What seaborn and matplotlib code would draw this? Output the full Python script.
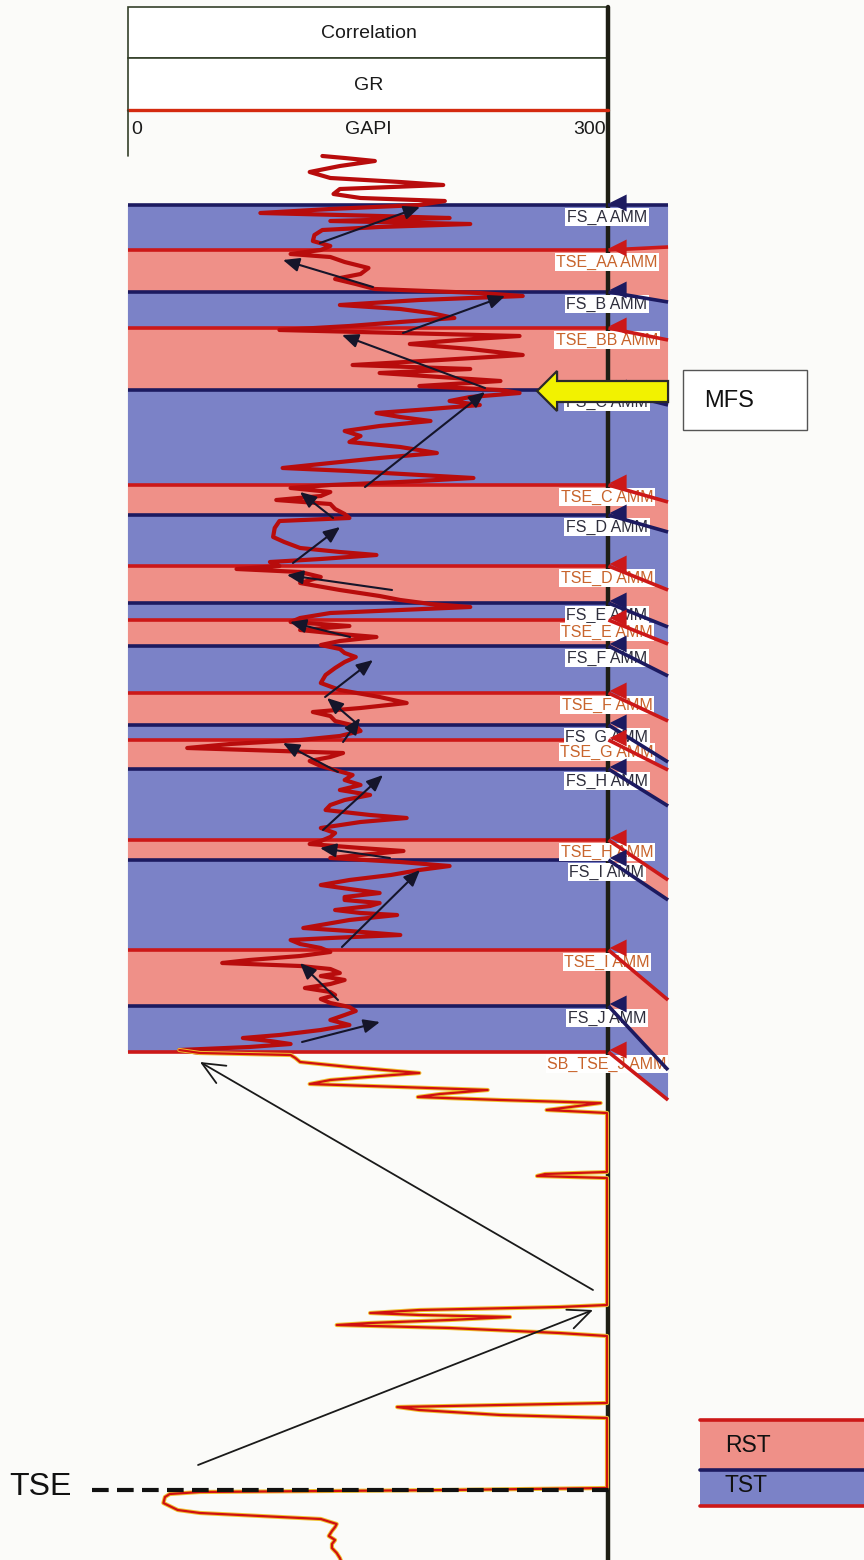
import numpy as np
import pandas as pd
import matplotlib
matplotlib.use("Agg")
import matplotlib.pyplot as plt
import matplotlib.patheffects as pe
from matplotlib.patches import Polygon, Rectangle
import seaborn as sns

sns.set_style("white")
plt.rcParams['font.family'] = ['Liberation Sans', 'DejaVu Sans']

# ---------------- data ----------------
surface_names = ["FS_A AMM", "TSE_AA AMM", "FS_B AMM", "TSE_BB AMM", "FS_C AMM",
                 "TSE_C AMM", "FS_D AMM", "TSE_D AMM", "FS_E AMM", "TSE_E AMM",
                 "FS_F AMM", "TSE_F AMM", "FS_G AMM", "TSE_G AMM", "FS_H AMM",
                 "TSE_H AMM", "FS_I AMM", "TSE_I AMM", "FS_J AMM", "SB_TSE_J AMM"]
surface_kind = ["FS", "TSE", "FS", "TSE", "FS", "TSE", "FS", "TSE", "FS", "TSE",
                "FS", "TSE", "FS", "TSE", "FS", "TSE", "FS", "TSE", "FS", "TSE"]
surface_depth = [205, 250, 292, 328, 390, 485, 515, 566, 603, 620,
                 646, 693, 725, 740, 769, 840, 860, 950, 1006, 1052]
# depth of the same surface at the right edge of the correlation panel
surface_depth_right = [205, 247, 302, 340, 405, 502, 532, 590, 627, 644,
                       676, 721, 762, 770, 806, 880, 900, 1000, 1070, 1100]

gr_depth = [156, 158, 161, 166, 172, 178, 182, 185, 189, 194, 198, 201, 205, 209, 213, 216,
            218, 221, 224, 227, 230, 235, 241, 246, 250, 254, 257, 262, 268, 274, 279, 284,
            289, 293, 296, 300, 305, 309, 313, 318, 322, 326, 330, 333, 336, 340, 344, 349,
            355, 360, 365, 369, 373, 377, 381, 386, 390, 393, 397, 401, 405, 409, 413, 417,
            421, 426, 431, 436, 442, 447, 453, 458, 463, 468, 471, 475, 478, 482, 485, 488,
            492, 496, 500, 504, 509, 514, 518, 521, 528, 537, 542, 548, 552, 555, 559, 562,
            566, 569, 572, 577, 583, 590, 596, 600, 604, 607, 610, 613, 618, 622, 626, 630,
            634, 637, 641, 645, 649, 653, 657, 662, 668, 675, 683, 690, 697, 703, 708, 712,
            716, 721, 726, 731, 736, 740, 744, 748, 751, 753, 757, 761, 766, 770, 775, 780,
            785, 790, 795, 800, 805, 810, 815, 818, 822, 828, 833, 837, 841, 844, 848, 851,
            855, 858, 862, 866, 870, 875, 880, 885, 889, 893, 897, 900, 903, 906, 910, 913,
            915, 920, 925, 928, 931, 935, 938, 940, 944, 948, 952, 956, 960, 963, 966, 969,
            973, 976, 980, 984, 988, 992, 995, 999, 1003, 1007, 1011, 1015, 1020, 1025, 1030, 1035,
            1038, 1041, 1044, 1047, 1050, 1053, 1055, 1058, 1062, 1067, 1073, 1076, 1080, 1084, 1087, 1090,
            1094, 1097, 1100, 1103, 1107, 1110, 1113, 1172, 1174, 1176, 1178, 1305, 1307, 1310, 1313, 1315,
            1317, 1320, 1323, 1325, 1328, 1333, 1336, 1403, 1405, 1407, 1410, 1415, 1418, 1488, 1490, 1492,
            1494, 1497, 1503, 1510, 1513, 1516, 1519, 1522, 1524, 1527, 1531, 1536, 1540, 1544, 1548, 1553,
            1558, 1562]
gr_api = [121, 135, 154, 132, 113, 126, 170, 197, 132, 128, 145, 198, 182, 126, 82, 157,
          201, 126, 214, 157, 121, 116, 115, 126, 120, 101, 126, 135, 150, 145, 129, 142,
          154, 220, 247, 182, 132, 170, 189, 204, 170, 138, 94, 170, 245, 207, 176, 214,
          247, 195, 140, 214, 157, 195, 233, 182, 233, 245, 214, 201, 220, 189, 155, 170,
          189, 157, 135, 145, 138, 170, 193, 157, 126, 96, 138, 182, 216, 170, 126, 101,
          126, 120, 92, 126, 129, 135, 138, 94, 91, 90, 97, 107, 132, 155, 120, 88,
          94, 67, 107, 120, 107, 132, 157, 170, 189, 214, 170, 126, 107, 101, 138, 107,
          132, 155, 132, 120, 132, 135, 142, 135, 129, 123, 120, 132, 157, 174, 145, 115,
          126, 129, 142, 145, 132, 107, 63, 36, 94, 134, 126, 113, 120, 129, 140, 135,
          145, 132, 151, 135, 126, 123, 151, 174, 145, 120, 129, 126, 120, 113, 145, 172,
          145, 126, 170, 201, 182, 164, 138, 120, 138, 157, 135, 135, 157, 151, 129, 145,
          168, 138, 120, 109, 138, 170, 126, 101, 107, 120, 126, 107, 75, 58, 107, 126,
          132, 120, 135, 126, 110, 126, 129, 120, 126, 138, 142, 135, 126, 138, 120, 94,
          71, 88, 101, 75, 31, 44, 101, 104, 107, 138, 182, 157, 126, 113, 170, 225,
          195, 181, 233, 296, 277, 262, 300, 300, 261, 256, 300, 300, 270, 182, 151, 182,
          239, 201, 151, 130, 201, 270, 300, 300, 233, 168, 182, 233, 300, 300, 201, 44,
          25, 22, 21, 30, 44, 82, 120, 126, 130, 129, 127, 125, 129, 127, 127, 130,
          132, 133]

# trend arrows inside the sequence (GR start, depth start, GR end, depth end)
trend_arrows = [(119.5, 243, 182.4, 207), (152.8, 287, 96.2, 260), (171.7, 333, 235.9, 296),
                (223.3, 388, 133.3, 335), (147.8, 487, 223.3, 392), (127.7, 518, 106.9, 492),
                (102.5, 563, 132.1, 527), (164.8, 590, 98.7, 575), (138.4, 637, 100.6, 622),
                (122.7, 697, 152.8, 660), (141.5, 722, 123.9, 698), (134.0, 742, 144.7, 718),
                (130.8, 772, 96.2, 743), (121.4, 830, 159.1, 775), (163.5, 858, 119.5, 848),
                (133.3, 947, 182.4, 870), (130.8, 1000, 106.9, 963), (108.2, 1042, 157.2, 1022)]
big_arrows = [(291.2, 1290, 44.0, 1062), (42.8, 1465, 291.2, 1310)]

tse_depth = 1490
legend_labels = ["RST", "TST"]

# ---------------- styling ----------------
BLUE = "#7b82c7"
PINK = "#ef9088"
NAVY = "#1c1a60"
RED = "#cc1818"
FS_TXT = "#2e2e3c"
TSE_TXT = "#c8642c"
X_LEFT, X_TRACK, X_RIGHT = -1.3, 300.9, 338.4

fig = plt.figure(figsize=(8.64, 15.6), dpi=100)
fig.patch.set_facecolor("#fbfbf9")
ax = fig.add_axes([0, 0, 1, 1])
ax.set_facecolor("#fbfbf9")

# zones
for i in range(len(surface_depth) - 1):
    top, bot = surface_depth[i], surface_depth[i + 1]
    topr, botr = surface_depth_right[i], surface_depth_right[i + 1]
    col = BLUE if surface_kind[i] == "FS" else PINK
    poly = Polygon([(X_LEFT, top), (X_TRACK, top), (X_RIGHT, topr), (X_RIGHT, botr),
                    (X_TRACK, bot), (X_LEFT, bot)], closed=True, facecolor=col,
                   edgecolor="none", zorder=1)
    ax.add_patch(poly)

# surface lines (left part)
for d, k in zip(surface_depth, surface_kind):
    ax.plot([X_LEFT, X_TRACK], [d, d], color=NAVY if k == "FS" else RED, lw=2.6, zorder=2,
            solid_capstyle="butt")

# track line
ax.plot([X_TRACK, X_TRACK], [7, 1560], color="#1e1e14", lw=3.2, zorder=2.5)

# GR curve
df = pd.DataFrame({"depth": gr_depth, "GR": gr_api})
up = df[df.depth <= 1053]
lo = df[df.depth >= 1050]
sns.lineplot(data=up, x="GR", y="depth", sort=False, estimator=None, orient="y", ax=ax,
             color="#b80c0c", lw=3.0, zorder=3)
sns.lineplot(data=lo, x="GR", y="depth", sort=False, estimator=None, orient="y", ax=ax,
             color="#d01010", lw=1.6, zorder=3,
             path_effects=[pe.Stroke(linewidth=3.0, foreground="#f0c030"), pe.Normal()])

# trend arrows
for x0, y0, x1, y1 in trend_arrows:
    ax.annotate("", xy=(x1, y1), xytext=(x0, y0),
                arrowprops=dict(arrowstyle="-|>,head_length=0.7,head_width=0.3",
                                color="#15152a", lw=1.5, shrinkA=0, shrinkB=0,
                                mutation_scale=14), zorder=3.5)
for x0, y0, x1, y1 in big_arrows:
    ax.annotate("", xy=(x1, y1), xytext=(x0, y0),
                arrowprops=dict(arrowstyle="->,head_length=0.9,head_width=0.4",
                                color="#1a1a1a", lw=1.3, shrinkA=0, shrinkB=0,
                                mutation_scale=18), zorder=3.5)

# labels
for name, d, k in zip(surface_names, surface_depth, surface_kind):
    ax.text(300, d + 12, name, ha="center", va="center", fontsize=11.5,
            color=FS_TXT if k == "FS" else TSE_TXT, zorder=4,
            bbox=dict(boxstyle="square,pad=0.1", facecolor="white", edgecolor="none"))

# surface lines in correlation panel + markers
for d, dr, k in zip(surface_depth, surface_depth_right, surface_kind):
    ax.plot([X_TRACK, X_RIGHT], [d, dr], color=NAVY if k == "FS" else RED, lw=2.6, zorder=5,
            solid_capstyle="butt")
mk = pd.DataFrame({"x": [307.0] * len(surface_depth), "d": [v - 2 for v in surface_depth],
                   "k": surface_kind})
sns.scatterplot(data=mk, x="x", y="d", hue="k", palette={"FS": NAVY, "TSE": RED},
                marker="<", s=150, edgecolor="none", legend=False, ax=ax, zorder=6)

# header
for y0, h, txt in [(7, 51, "Correlation"), (58, 52, "GR")]:
    ax.add_patch(Rectangle((X_LEFT, y0), X_TRACK - X_LEFT, h, facecolor="white",
                           edgecolor="#34402a", lw=1.2, zorder=2))
    ax.text(150, y0 + h / 2 + 1, txt, ha="center", va="center", fontsize=14,
            color="#1a1a1a", zorder=3)
ax.plot([X_LEFT, X_TRACK], [110, 110], color="#d42a10", lw=2.4, zorder=3)
ax.plot([X_LEFT, X_LEFT], [110, 156], color="#34402a", lw=1.2, zorder=3)
ax.text(0.5, 130, "0", ha="left", va="center", fontsize=14, color="#1a1a1a")
ax.text(150, 130, "GAPI", ha="center", va="center", fontsize=14, color="#1a1a1a")
ax.text(299, 130, "300", ha="right", va="center", fontsize=14, color="#1a1a1a")

# MFS arrow and box
ax.add_patch(Polygon([(256, 391), (268.6, 371), (268.6, 381), (338.4, 381), (338.4, 402),
                      (268.6, 402), (268.6, 411)], closed=True, facecolor="#f2f200",
                     edgecolor="#2a2a2a", lw=1.6, zorder=7))
ax.add_patch(Rectangle((347.8, 370), 78, 60, facecolor="white", edgecolor="#555555",
                       lw=1.0, zorder=7))
ax.text(361, 401, "MFS", ha="left", va="center", fontsize=17, color="#111111", zorder=8)

# TSE dashed line
ax.text(-76, tse_depth - 3, "TSE", ha="left", va="center", fontsize=23, color="#111111")
ax.plot([-23.9, 303], [tse_depth, tse_depth], color="#111111", lw=3, ls=(0, (4, 2)), zorder=4)

# legend
ax.add_patch(Rectangle((358.5, 1420), 110, 50, facecolor=PINK, edgecolor="none", zorder=2))
ax.add_patch(Rectangle((358.5, 1470), 110, 36, facecolor=BLUE, edgecolor="none", zorder=2))
ax.plot([358.5, 470], [1420, 1420], color=RED, lw=2.6, zorder=3)
ax.plot([358.5, 470], [1470, 1470], color=NAVY, lw=2.6, zorder=3)
ax.plot([358.5, 470], [1506, 1506], color=RED, lw=2.6, zorder=3)
ax.text(374, 1446, legend_labels[0], ha="left", va="center", fontsize=16.5, color="#111111", zorder=4)
ax.text(374, 1485, legend_labels[1], ha="left", va="center", fontsize=16.5, color="#111111", zorder=4)

ax.set_xlim(-81.76, 461.64)
ax.set_ylim(1560, 0)
ax.axis("off")
fig.savefig("out.png", dpi=100, facecolor=fig.get_facecolor())
